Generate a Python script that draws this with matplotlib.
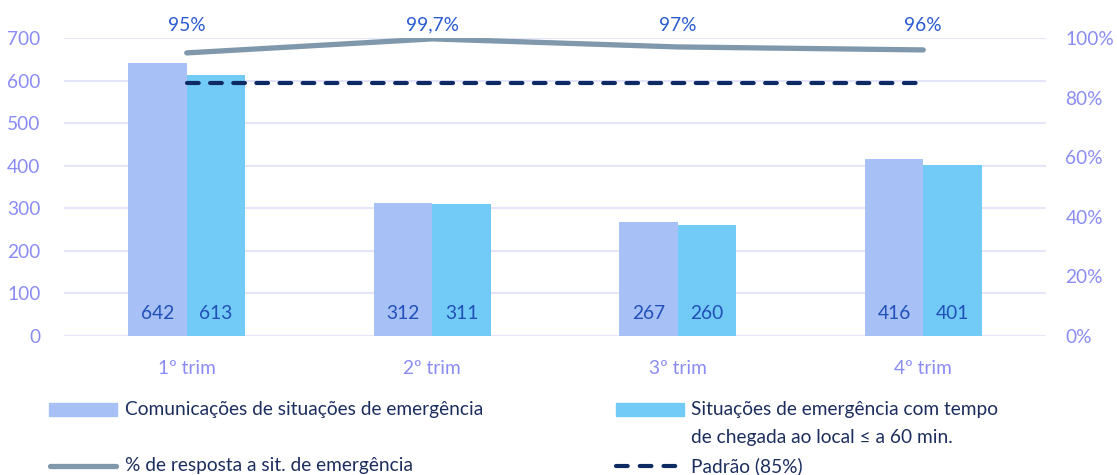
import numpy as np
import matplotlib.pyplot as plt
from matplotlib.patches import Rectangle
from matplotlib.lines import Line2D

plt.rcParams['font.family'] = ['Lato', 'DejaVu Sans']

categories = ['1º trim', '2º trim', '3º trim', '4º trim']
comunicacoes = [642, 312, 267, 416]
situacoes_60 = [613, 311, 260, 401]
pct_resposta = [95, 99.7, 97, 96]
pct_labels = ['95%', '99,7%', '97%', '96%']
padrao = [85, 85, 85, 85]

c_bar1 = '#a7c0f6'
c_bar2 = '#72caf6'
c_line = '#7f98ab'
c_dash = '#0d2a62'
c_tick = '#8a8cf4'
c_grid = '#e4e4fa'
c_val = '#2150b8'
c_pct = '#2a5bd0'
c_leg = '#1c2e5e'
fs = 13.8

fig = plt.figure(figsize=(11.17, 4.75), dpi=100)
ax = fig.add_axes([64 / 1117, 1 - 336 / 475, 982 / 1117, 298 / 475])
ax2 = ax.twinx()

x = np.arange(len(categories))
w = 0.238
ax.bar(x - w / 2, comunicacoes, w, color=c_bar1, zorder=2)
ax.bar(x + w / 2, situacoes_60, w, color=c_bar2, zorder=2)
for i in x:
    ax.text(i - w / 2, 53, str(comunicacoes[i]), ha='center', va='center',
            color=c_val, fontsize=fs, zorder=3)
    ax.text(i + w / 2, 53, str(situacoes_60[i]), ha='center', va='center',
            color=c_val, fontsize=fs, zorder=3)

ax.set_xlim(-0.5, 3.5)
ax.set_ylim(0, 700)
ax.set_yticks(range(0, 701, 100))
ax.set_xticks(x)
ax.set_xticklabels(categories)
ax.grid(axis='y', color=c_grid, linewidth=1.5, zorder=0)
ax.set_axisbelow(True)
for s in ax.spines.values():
    s.set_visible(False)
ax.tick_params(length=0, colors=c_tick, labelsize=fs)
ax.tick_params(axis='x', pad=17)
ax.tick_params(axis='y', pad=17)

ax2.set_ylim(0, 100)
ax2.set_yticks(range(0, 101, 20))
ax2.set_yticklabels([f'{v}%' for v in range(0, 101, 20)])
for s in ax2.spines.values():
    s.set_visible(False)
ax2.tick_params(length=0, colors=c_tick, labelsize=fs, pad=14)

ax2.plot(x, pct_resposta, color=c_line, linewidth=3.8, solid_capstyle='round', zorder=4)
ax2.plot(x, padrao, color=c_dash, linewidth=3.0, dashes=(2.8, 2.75),
         dash_capstyle='round', zorder=4)
for i in x:
    ax2.annotate(pct_labels[i], (i, 100), xytext=(0, 3), textcoords='offset points',
                 ha='center', va='bottom', color=c_pct, fontsize=fs,
                 annotation_clip=False)

# legend, drawn by hand so the rows line up
def fx(px):
    return px / 1117

def fy(py):
    return 1 - py / 475

fig.add_artist(Rectangle((fx(49), fy(416)), fx(68), 13 / 475, color=c_bar1,
                         transform=fig.transFigure))
fig.add_artist(Rectangle((fx(616), fy(416)), fx(68), 13 / 475, color=c_bar2,
                         transform=fig.transFigure))
fig.add_artist(Line2D([fx(50), fx(116)], [fy(466), fy(466)], color=c_line, linewidth=3.8,
                      solid_capstyle='round', transform=fig.transFigure))
fig.add_artist(Line2D([fx(616), fx(681)], [fy(466), fy(466)], color=c_dash, linewidth=3.0,
                      dashes=(2.8, 2.9), dash_capstyle='round', transform=fig.transFigure))

leg_kw = dict(color=c_leg, fontsize=fs, va='center', ha='left')
fig.text(fx(125), fy(410), 'Comunicações de situações de emergência', **leg_kw)
fig.text(fx(691), fy(410), 'Situações de emergência com tempo', **leg_kw)
fig.text(fx(691), fy(437), 'de chegada ao local ≤ a 60 min.', **leg_kw)
fig.text(fx(125), fy(466), '% de resposta a sit. de emergência', **leg_kw)
fig.text(fx(691), fy(466), 'Padrão (85%)', **leg_kw)

fig.savefig('out.png', dpi=100)
